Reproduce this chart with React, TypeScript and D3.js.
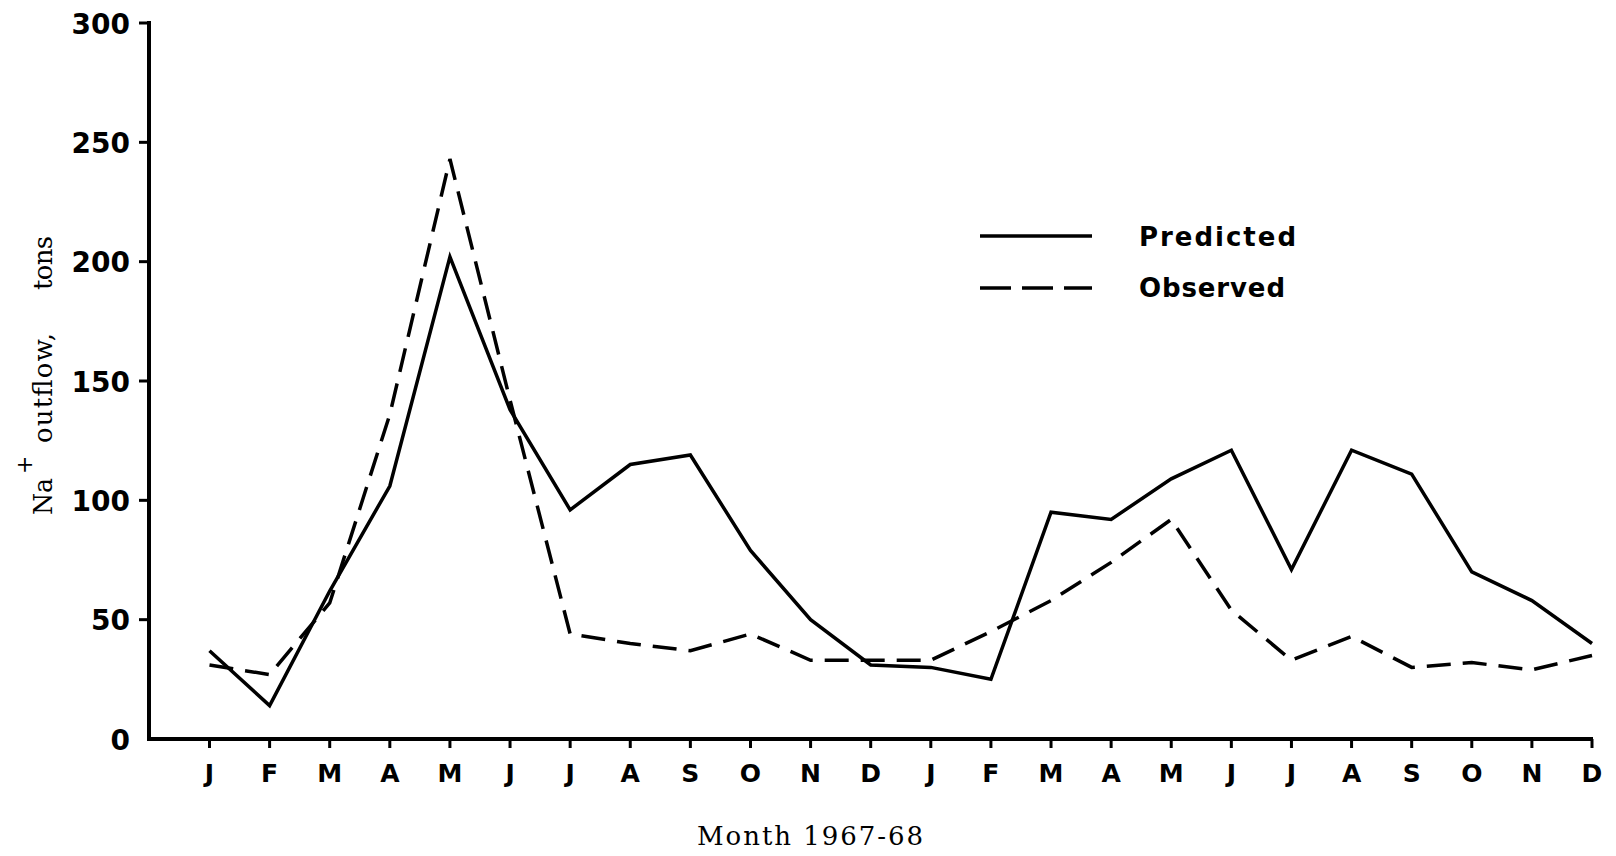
import React from "react";
import * as d3 from "d3";

// Monthly Na+ outflow, Jan 1967 – Dec 1968 (tons)
const months = ["J", "F", "M", "A", "M", "J", "J", "A", "S", "O", "N", "D",
                "J", "F", "M", "A", "M", "J", "J", "A", "S", "O", "N", "D"];
const predicted = [37, 14, 62, 106, 202, 138, 96, 115, 119, 79, 50, 31,
                   30, 25, 95, 92, 109, 121, 71, 121, 111, 70, 58, 40];
const observed = [31, 27, 57, 136, 243, 142, 44, 40, 37, 44, 33, 33,
                  33, 45, 58, 74, 92, 54, 33, 43, 30, 32, 29, 35];
const yTicks = [0, 50, 100, 150, 200, 250, 300];

const W = 1616;
const H = 856;
const axisX = 149;
const axisY = 739;

const sans = "'DejaVu Sans', sans-serif";
const serif = "'DejaVu Serif', serif";

export default function App() {
  const x = d3.scaleLinear().domain([0, months.length - 1]).range([209.5, 1592]);
  const y = d3.scaleLinear().domain([0, 300]).range([axisY, 23]);

  const line = d3
    .line<number>()
    .x((_, i) => x(i))
    .y((d) => y(d));

  return (
    <svg
      width={W}
      height={H}
      viewBox={`0 0 ${W} ${H}`}
      style={{ position: "absolute", left: 0, top: 0, background: "#fff" }}
    >
      <rect width={W} height={H} fill="#fff" />

      {/* axes */}
      <line x1={axisX} y1={y(300) - 2} x2={axisX} y2={axisY + 2} stroke="#000" strokeWidth={4} />
      <line x1={axisX - 2} y1={axisY} x2={x(months.length - 1) + 1} y2={axisY} stroke="#000" strokeWidth={4} />

      {/* y ticks and labels */}
      {yTicks.map((t) => (
        <g key={t}>
          {t > 0 && (
            <line x1={139} y1={y(t)} x2={axisX} y2={y(t)} stroke="#000" strokeWidth={3} />
          )}
          <text
            x={130}
            y={y(t) + 10.5}
            textAnchor="end"
            fontFamily={sans}
            fontWeight="bold"
            fontSize={28}
            fill="#000"
          >
            {t}
          </text>
        </g>
      ))}

      {/* x ticks and month labels */}
      {months.map((m, i) => (
        <g key={i}>
          <line x1={x(i)} y1={axisY} x2={x(i)} y2={axisY + 9} stroke="#000" strokeWidth={3} />
          <text
            x={x(i)}
            y={782}
            textAnchor="middle"
            fontFamily={sans}
            fontWeight="bold"
            fontSize={25}
            fill="#000"
          >
            {m}
          </text>
        </g>
      ))}

      {/* series */}
      <path
        d={line(predicted) ?? ""}
        fill="none"
        stroke="#000"
        strokeWidth={3.5}
        strokeLinejoin="miter"
      />
      <path
        d={line(observed) ?? ""}
        fill="none"
        stroke="#000"
        strokeWidth={3.5}
        strokeDasharray="24 12"
        strokeLinejoin="miter"
      />

      {/* legend */}
      <line x1={980} y1={236} x2={1092} y2={236} stroke="#000" strokeWidth={3.5} />
      <line x1={980} y1={288} x2={1092} y2={288} stroke="#000" strokeWidth={3.5} strokeDasharray="31 11" />
      <text x={1139} y={246} fontFamily={sans} fontWeight="bold" fontSize={26} textLength={157} lengthAdjust="spacing">
        Predicted
      </text>
      <text x={1139} y={297} fontFamily={sans} fontWeight="bold" fontSize={26} textLength={146} lengthAdjust="spacing">
        Observed
      </text>

      {/* axis titles */}
      <text x={697} y={845} fontFamily={serif} fontSize={26} textLength={226} lengthAdjust="spacing">
        Month 1967-68
      </text>
      <g transform="translate(52,515) rotate(-90)">
        <text x={0} y={0} fontFamily={serif} fontSize={26} textLength={37} lengthAdjust="spacingAndGlyphs">
          Na
        </text>
        <text x={41} y={-20} fontFamily={serif} fontSize={22}>
          +
        </text>
        <text x={72} y={0} fontFamily={serif} fontSize={26} textLength={110} lengthAdjust="spacing">
          outflow,
        </text>
        <text x={225} y={0} fontFamily={serif} fontSize={26} textLength={54} lengthAdjust="spacing">
          tons
        </text>
      </g>
    </svg>
  );
}
